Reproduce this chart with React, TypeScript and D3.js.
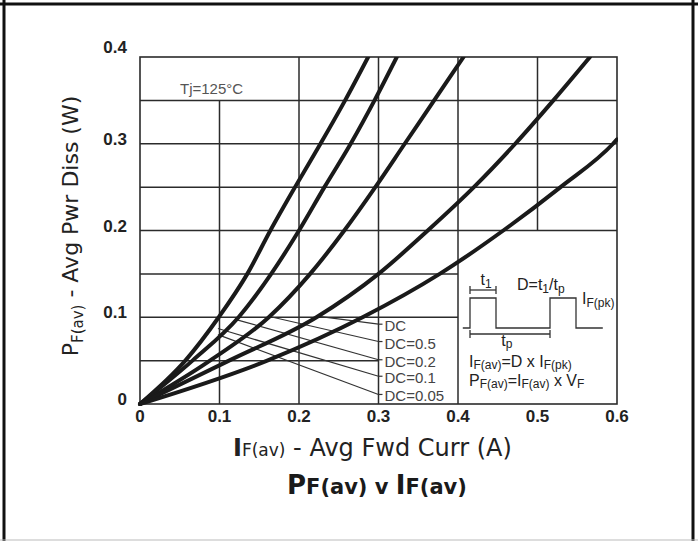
import React from "react";
import * as d3 from "d3";

const W = 698;
const H = 541;

// power levels (W) where the pulsed curves were read
const powerSteps = [0, 0.05, 0.1, 0.15, 0.2, 0.25, 0.3, 0.35, 0.4];
// average forward current (A) at each power step, one array per duty cycle
const currentD005 = [0, 0.057, 0.099, 0.135, 0.164, 0.195, 0.227, 0.258, 0.287];
const currentD01 = [0, 0.066, 0.124, 0.165, 0.2, 0.232, 0.265, 0.295, 0.323];
const currentD02 = [0, 0.088, 0.162, 0.214, 0.257, 0.296, 0.333, 0.37, 0.407];
const currentD05 = [0, 0.112, 0.222, 0.3, 0.362, 0.42, 0.472, 0.52, 0.566];
// DC curve leaves through the right edge
const powerDC = [0, 0.05, 0.1, 0.15, 0.2, 0.25, 0.3, 0.305];
const currentDC = [0, 0.16, 0.28, 0.377, 0.457, 0.529, 0.595, 0.6];

// leader lines from curves to the duty cycle labels
const dutyLabels = ["DC", "DC=0.5", "DC=0.2", "DC=0.1", "DC=0.05"];
const leaderFromI = [0.225, 0.167, 0.122, 0.098, 0.098];
const leaderFromP = [0.101, 0.1, 0.097, 0.087, 0.08];
const leaderToP = [0.092, 0.072, 0.051, 0.032, 0.011];

const xTicks = [0, 0.1, 0.2, 0.3, 0.4, 0.5, 0.6];
const yTicks = [0, 0.1, 0.2, 0.3, 0.4];

// grid segments: [value, from, to]
const vGrid = [
  [0.1, 0, 0.35],
  [0.2, 0, 0.4],
  [0.3, 0, 0.4],
  [0.4, 0, 0.4],
  [0.5, 0.2, 0.4],
];
const hGrid = [
  [0.05, 0, 0.3],
  [0.1, 0, 0.4],
  [0.15, 0, 0.4],
  [0.2, 0, 0.6],
  [0.25, 0, 0.6],
  [0.3, 0, 0.6],
  [0.35, 0, 0.6],
];

// pulse sketch in the inset (time in units of tp, level 0/1)
const pulseT = [-0.09, 0, 0, 0.325, 0.325, 1, 1, 1.325, 1.325, 1.66];
const pulseLevel = [0, 0, 1, 1, 0, 0, 1, 1, 0, 0];

const SANS = "'Liberation Sans', Arial, sans-serif";
const WIDE = "'DejaVu Sans', sans-serif";

const App = () => {
  const xs = d3.scaleLinear().domain([0, 0.6]).range([140, 617]);
  const ys = d3.scaleLinear().domain([0, 0.4]).range([404, 57]);

  const line = d3
    .line<[number, number]>()
    .x((d) => xs(d[0]))
    .y((d) => ys(d[1]))
    .curve(d3.curveMonotoneX);

  const series = [
    currentD005.map((c, i) => [c, powerSteps[i]] as [number, number]),
    currentD01.map((c, i) => [c, powerSteps[i]] as [number, number]),
    currentD02.map((c, i) => [c, powerSteps[i]] as [number, number]),
    currentD05.map((c, i) => [c, powerSteps[i]] as [number, number]),
    currentDC.map((c, i) => [c, powerDC[i]] as [number, number]),
  ];

  // inset scales
  const x0 = xs(0.4);
  const ts = d3.scaleLinear().domain([0, 1]).range([x0 + 12, x0 + 92]);
  const ls = d3.scaleLinear().domain([0, 1]).range([328, 298]);
  const pulse = d3
    .line<number>()
    .x((t) => ts(t))
    .y((_, i) => ls(pulseLevel[i]));

  const gridStroke = "#2b2b2b";

  return (
    <svg
      width={W}
      height={H}
      style={{ position: "absolute", left: 0, top: 0, background: "#fff" }}
    >
      {/* outer frame */}
      <line x1={0} y1={4} x2={W} y2={4} stroke="#111" strokeWidth={3} />
      <line x1={4} y1={0} x2={4} y2={H} stroke="#111" strokeWidth={3} />
      <line x1={693} y1={0} x2={693} y2={H} stroke="#111" strokeWidth={3} />
      <line x1={0} y1={540} x2={W} y2={540} stroke="#bbb" strokeWidth={1} />

      <defs>
        <clipPath id="plot">
          <rect x={xs(0) - 3} y={ys(0.4)} width={xs(0.6) - xs(0) + 4} height={ys(0) - ys(0.4) + 3} />
        </clipPath>
      </defs>

      {/* grid */}
      {vGrid.map(([v, a, b], i) => (
        <line key={"v" + i} x1={xs(v)} x2={xs(v)} y1={ys(a)} y2={ys(b)} stroke={gridStroke} strokeWidth={1.5} />
      ))}
      {hGrid.map(([v, a, b], i) => (
        <line key={"h" + i} y1={ys(v)} y2={ys(v)} x1={xs(a)} x2={xs(b)} stroke={gridStroke} strokeWidth={1.5} />
      ))}
      <rect
        x={xs(0)}
        y={ys(0.4)}
        width={xs(0.6) - xs(0)}
        height={ys(0) - ys(0.4)}
        fill="none"
        stroke={gridStroke}
        strokeWidth={1.6}
      />

      {/* leader lines + labels */}
      {dutyLabels.map((lab, i) => (
        <g key={lab}>
          <line
            x1={xs(leaderFromI[i])}
            y1={ys(leaderFromP[i])}
            x2={xs(0.3)}
            y2={ys(leaderToP[i])}
            stroke="#333"
            strokeWidth={1.2}
          />
          <line x1={xs(0.3)} x2={xs(0.3) + 4} y1={ys(leaderToP[i])} y2={ys(leaderToP[i])} stroke="#333" strokeWidth={1.2} />
          <text x={xs(0.3) + 6} y={ys(leaderToP[i]) + 7} fontFamily={SANS} fontSize={15} fill="#444">
            {lab}
          </text>
        </g>
      ))}

      {/* curves */}
      <g clipPath="url(#plot)">
        {series.map((s, i) => (
          <path key={i} d={line(s) || ""} fill="none" stroke="#1a1a1a" strokeWidth={4} strokeLinecap="round" />
        ))}
      </g>

      <text x={180} y={94} fontFamily={SANS} fontSize={15} fill="#555">
        Tj=125°C
      </text>

      {/* tick labels */}
      {yTicks.map((v) => (
        <text
          key={"yt" + v}
          x={127}
          y={v === 0.4 ? ys(v) - 4 : ys(v) + 1}
          textAnchor="end"
          fontFamily={SANS}
          fontWeight="bold"
          fontSize={17}
          fill="#222"
        >
          {v === 0 ? "0" : v.toFixed(1)}
        </text>
      ))}
      {xTicks.map((v) => (
        <text
          key={"xt" + v}
          x={xs(v)}
          y={422}
          textAnchor="middle"
          fontFamily={SANS}
          fontWeight="bold"
          fontSize={17}
          fill="#222"
        >
          {v === 0 ? "0" : v.toFixed(1)}
        </text>
      ))}

      {/* axis titles */}
      <text transform="translate(78,226) rotate(-90)" textAnchor="middle" fontFamily={WIDE} fontSize={22} fill="#222">
        <tspan>P</tspan>
        <tspan fontSize={15} dy={5}>F(av)</tspan>
        <tspan dy={-5}> - Avg Pwr Diss (W)</tspan>
      </text>
      <text x={233} y={456} fontFamily={WIDE} fontSize={24} fill="#222">
        <tspan fontWeight="bold">I</tspan>
        <tspan fontSize={17}>F(av)</tspan>
        <tspan> - Avg Fwd Curr (A)</tspan>
      </text>
      <text x={287} y={494} fontFamily={WIDE} fontWeight="bold" fontSize={21} fill="#1a1a1a">
        <tspan fontSize={26}>P</tspan>
        <tspan>F(av) v </tspan>
        <tspan fontSize={26}>I</tspan>
        <tspan>F(av)</tspan>
      </text>

      {/* inset: pulse definition */}
      <g stroke="#333" strokeWidth={1.3} fill="none">
        <path d={pulse(pulseT) || ""} />
        <line x1={ts(0)} x2={ts(0.325)} y1={290} y2={290} />
        <line x1={ts(0)} x2={ts(0)} y1={286} y2={294} />
        <line x1={ts(0.325)} x2={ts(0.325)} y1={286} y2={294} />
        <line x1={ts(0)} x2={ts(1)} y1={334} y2={334} />
        <line x1={ts(0)} x2={ts(0)} y1={330} y2={338} />
        <line x1={ts(1)} x2={ts(1)} y1={330} y2={338} />
      </g>
      <g fontFamily={SANS} fontSize={16} fill="#222">
        <text x={ts(0.2)} y={285} textAnchor="middle">
          t<tspan fontSize={12} dy={3}>1</tspan>
        </text>
        <text x={517} y={290}>
          D=t<tspan fontSize={12} dy={3}>1</tspan>
          <tspan dy={-3}>/t</tspan>
          <tspan fontSize={12} dy={3}>p</tspan>
        </text>
        <text x={582} y={304}>
          I<tspan fontSize={12} dy={3}>F(pk)</tspan>
        </text>
        <text x={ts(0.46)} y={346} textAnchor="middle">
          t<tspan fontSize={12} dy={2}>p</tspan>
        </text>
        <text x={469} y={367}>
          I<tspan fontSize={12} dy={2}>F(av)</tspan>
          <tspan dy={-2}>=D x I</tspan>
          <tspan fontSize={12} dy={2}>F(pk)</tspan>
        </text>
        <text x={469} y={386}>
          P<tspan fontSize={12} dy={2}>F(av)</tspan>
          <tspan dy={-2}>=I</tspan>
          <tspan fontSize={12} dy={2}>F(av)</tspan>
          <tspan dy={-2}> x V</tspan>
          <tspan fontSize={12} dy={2}>F</tspan>
        </text>
      </g>
    </svg>
  );
};

export default App;
